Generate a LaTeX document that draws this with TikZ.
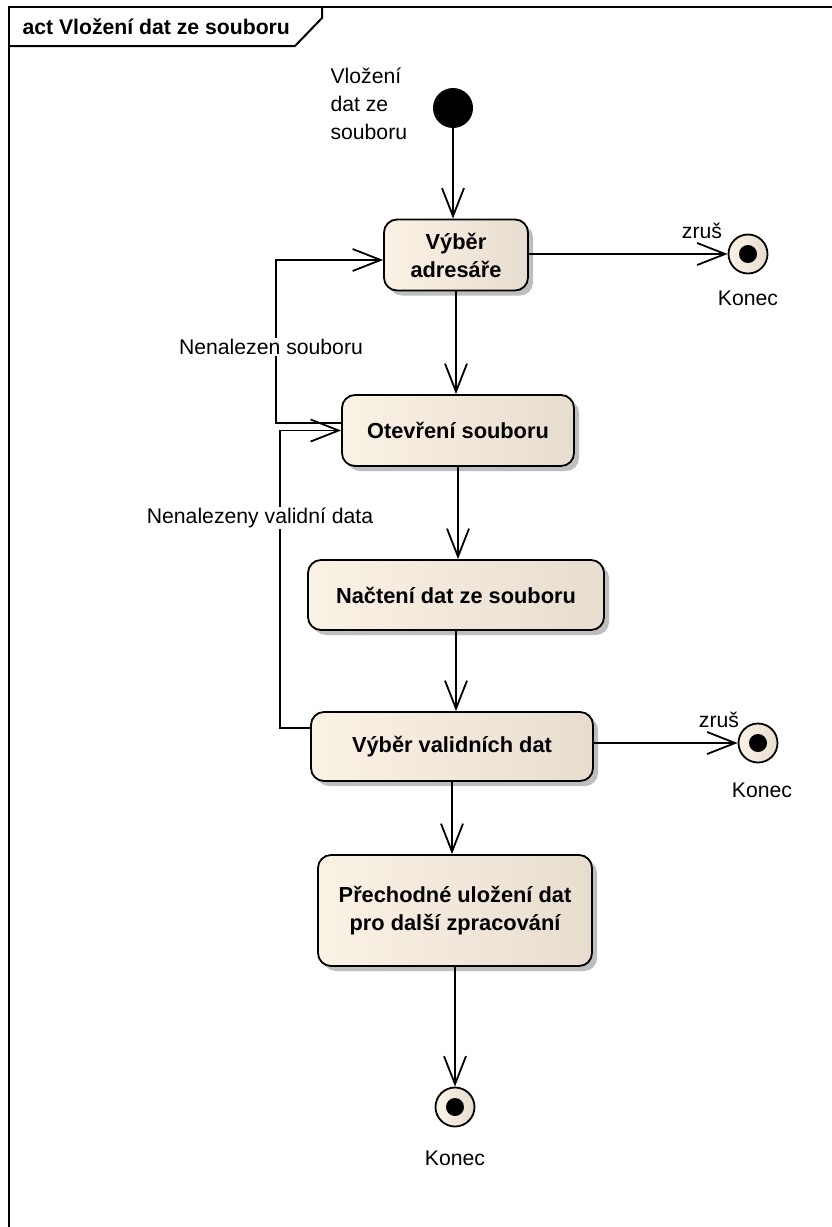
\documentclass[tikz,border=0pt]{standalone}
\usepackage{fontspec}
\setmainfont{Liberation Sans}
\usetikzlibrary{arrows.meta,shadows,calc}
\definecolor{creamL}{RGB}{251,242,230}
\definecolor{creamR}{RGB}{231,221,207}
\definecolor{shadowgray}{RGB}{190,190,190}

\begin{document}
\begin{tikzpicture}[x=1pt,y=-1pt,
  font=\fontsize{21.2}{28}\selectfont,
  action/.style={draw, line width=1.8pt, rounded corners=13pt,
    left color=creamL, right color=creamR,
    font=\fontsize{21.8}{28}\selectfont\bfseries, align=center, inner sep=0pt,
    drop shadow={shadow xshift=5pt, shadow yshift=-5pt, fill=shadowgray, opacity=1}},
  initial/.style={circle, fill=black, minimum size=40pt, inner sep=0pt},
  final/.style={circle, draw, line width=1.8pt, left color=creamL, right color=creamR,
    minimum size=39pt, inner sep=0pt,
    path picture={\fill[black] (path picture bounding box.center) circle (9pt);}},
  flow/.style={line width=1.8pt, -{Straight Barb[length=28pt, width=22pt]}},
  guard/.style={fill=white, inner sep=1pt},
  frameline/.style={line width=2pt}
]
% canvas
\fill[white] (0,0) rectangle (832,1227);
\useasboundingbox (0,0) rectangle (832,1227);

% diagram frame with its name tab
\draw[frameline] (9,1227) -- (9,7) -- (832,7);
\draw[frameline] (9,46) -- (295,46) -- (322,18) -- (322,7);
\node[anchor=west, font=\fontsize{21.2}{28}\selectfont\bfseries] (title) at (19,27) {act Vložení dat ze souboru};

% initial node and its name
\node[initial] (start) at (453,108) {};
\node[anchor=west, align=left] (startlbl) at (327,104) {Vložení\\dat ze\\souboru};

% actions
\node[action, minimum width=144pt, minimum height=71pt] (adr) at (456,255) {Výběr\\adresáře};
\node[action, minimum width=232pt, minimum height=71pt] (otev) at (458,430.5) {Otevření souboru};
\node[action, minimum width=296pt, minimum height=70pt] (nact) at (456,595) {Načtení dat ze souboru};
\node[action, minimum width=282pt, minimum height=69pt] (valid) at (452,746.5) {Výběr validních dat};
\node[action, minimum width=274pt, minimum height=111pt] (prech) at (455,910.5) {Přechodné uložení dat\\pro další zpracování};

% final nodes
\node[final] (f1) at (748,254) {};
\node (k1) at (748,298) {Konec};
\node[final] (f2) at (758,743) {};
\node (k2) at (762,790) {Konec};
\node[final] (f3) at (455,1107) {};
\node (k3) at (455,1158) {Konec};

% main flow
\draw[flow] (start.south) -- (start.south |- adr.north);
\draw[flow] (adr.south) -- (adr.south |- otev.north);
\draw[flow] (otev.south) -- (otev.south |- nact.north);
\draw[flow] (nact.south) -- (nact.south |- valid.north);
\draw[flow] (valid.south) -- (valid.south |- prech.north);
\draw[flow] (prech.south) -- (prech.south |- f3.north);

% cancel branches
\draw[flow] (f1.west -| adr.east) -- (f1.west);
\node (z1) at (702,231) {zruš};
\draw[flow] (f2.west -| valid.east) -- (f2.west);
\node (z2) at (719,720) {zruš};

% loops back
\draw[flow] ([yshift=7.5pt]otev.west) -- ++(-65,0) |- ([yshift=-5pt]adr.west);
\draw[flow] ([yshift=18.5pt]valid.west) -- ++(-30,0) |- (otev.west);
\node[guard] (g1) at (271,347) {Nenalezen souboru};
\node[guard] (g2) at (260,518) {Nenalezeny validní data};
\end{tikzpicture}
\end{document}
